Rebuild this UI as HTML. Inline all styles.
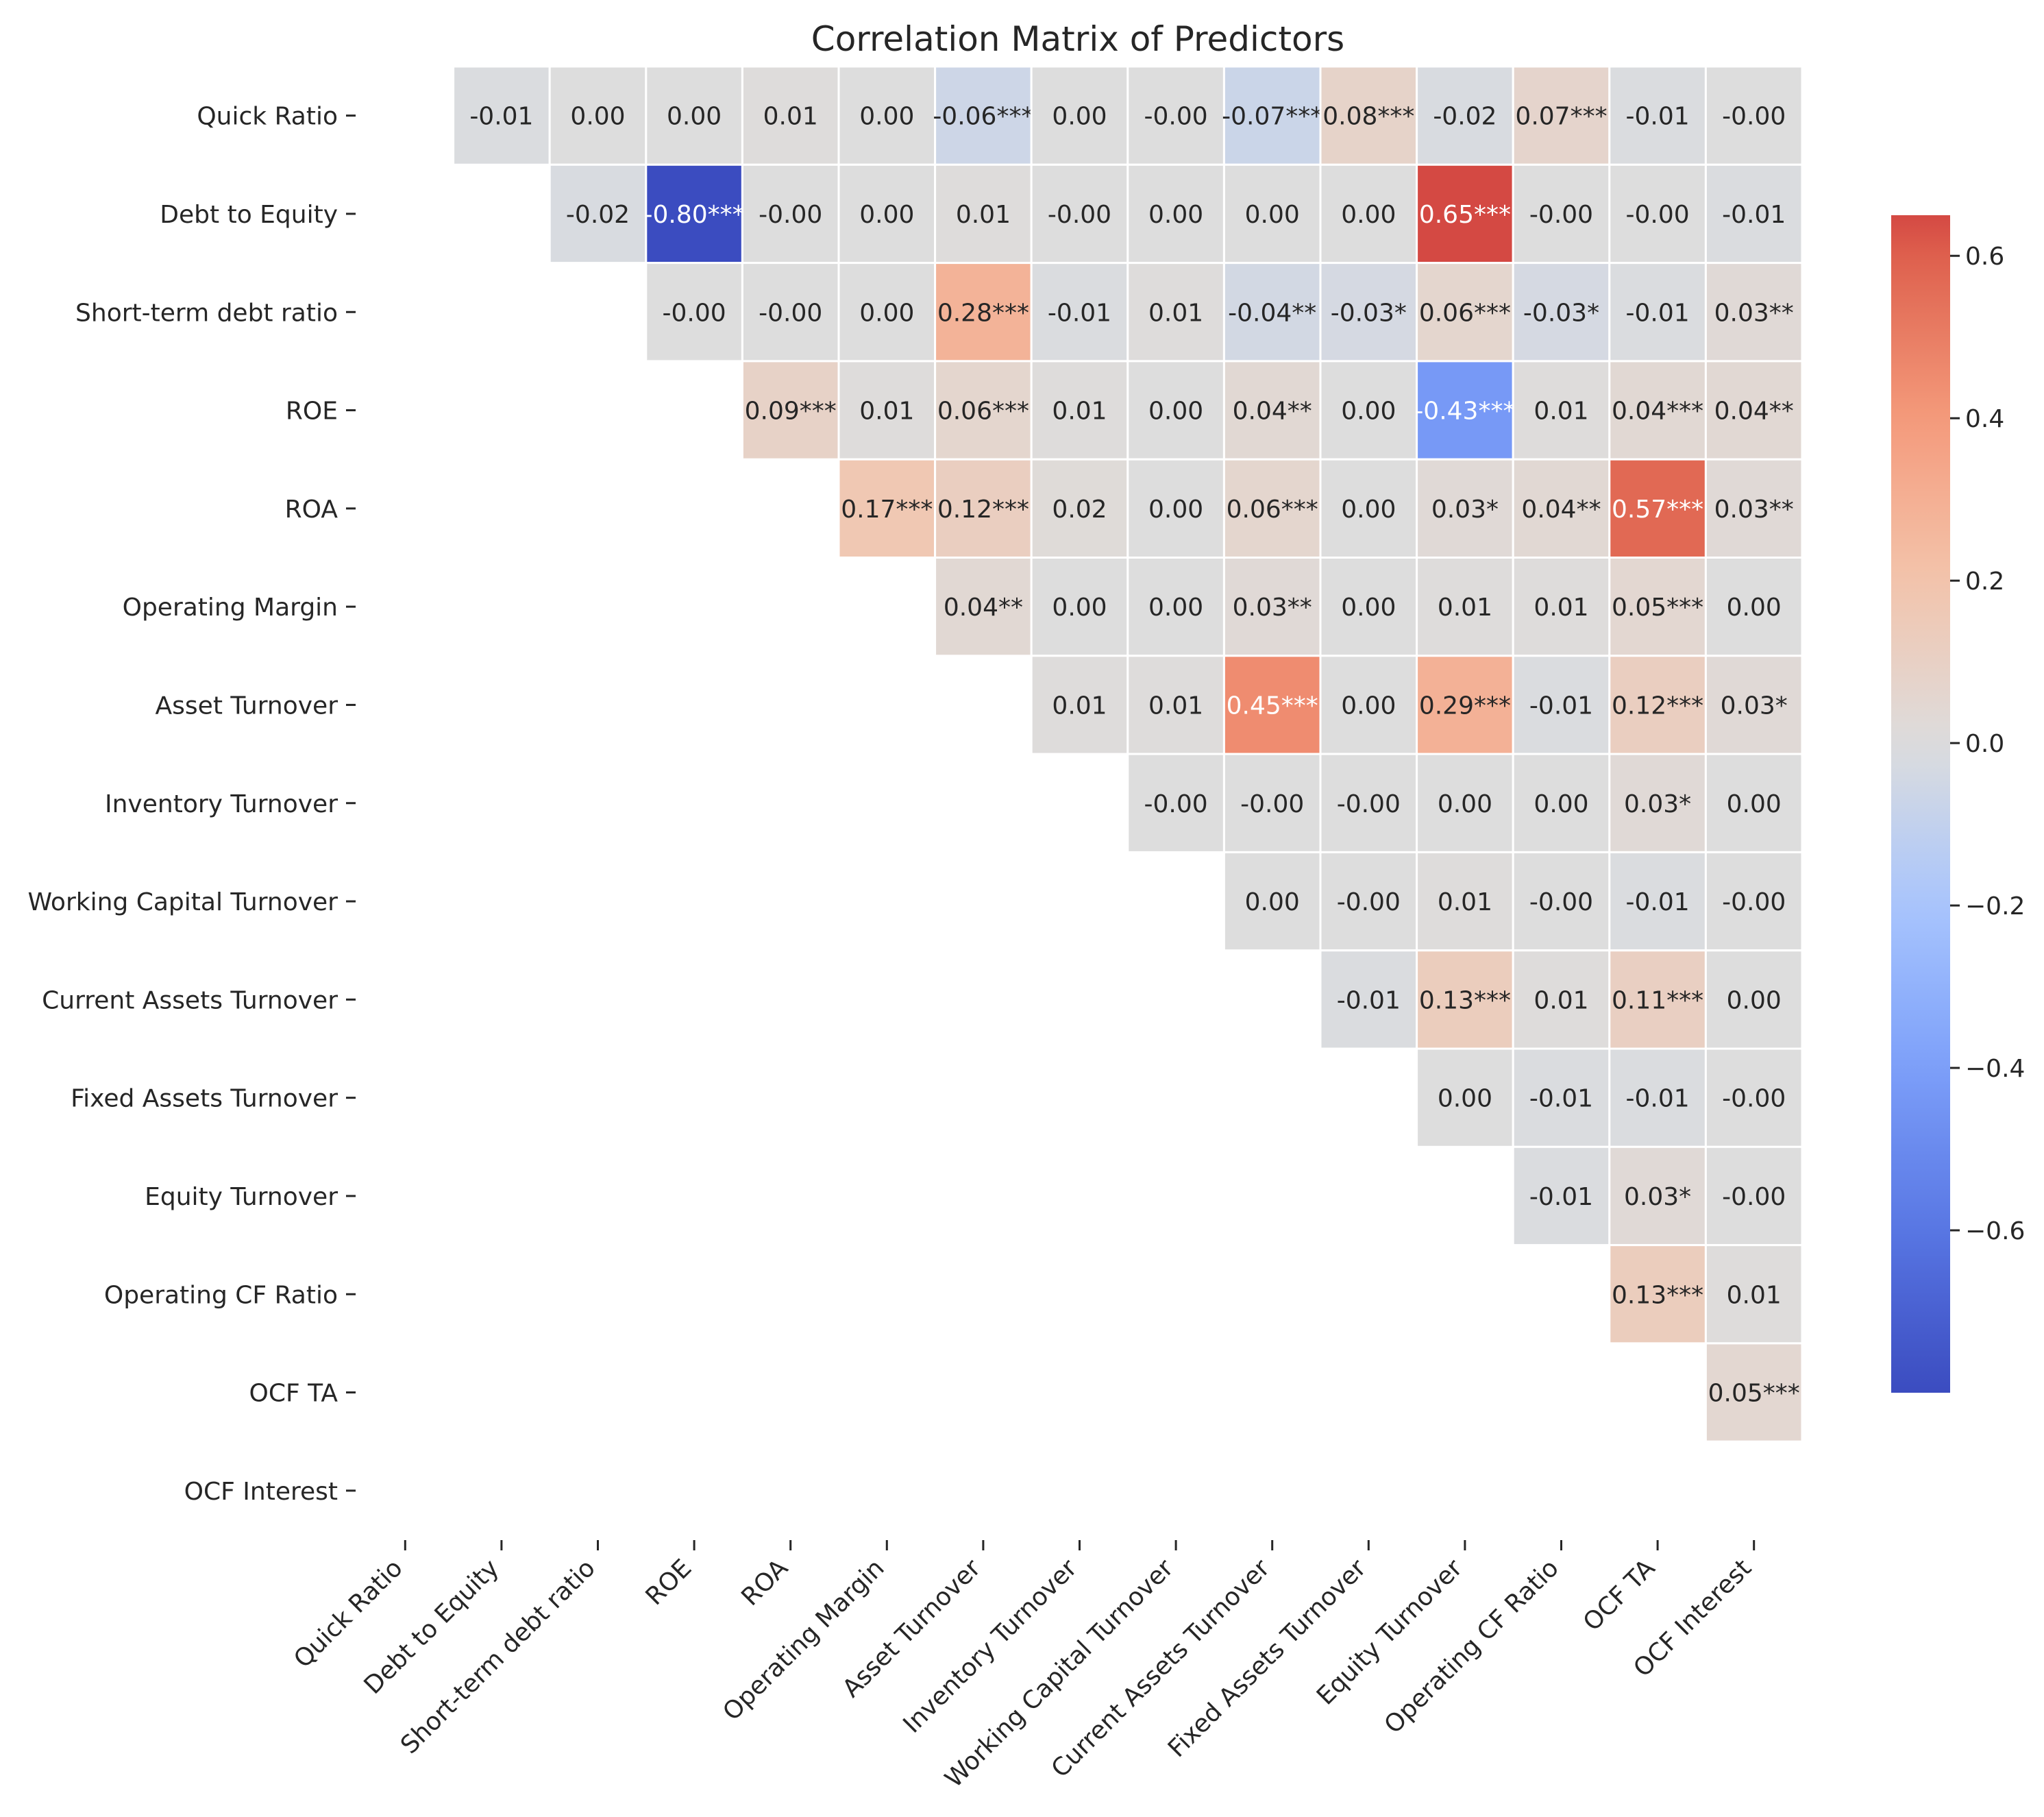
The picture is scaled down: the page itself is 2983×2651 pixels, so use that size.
<!DOCTYPE html>
<html><head><meta charset="utf-8">
<style>
html,body{margin:0;padding:0;background:#fff;}
svg text{font-family:"DejaVu Sans","Liberation Sans",sans-serif;fill:#262626;}
</style></head>
<body>
<svg id="chart" width="2983" height="2646" viewBox="0 0 2983 2646" xmlns="http://www.w3.org/2000/svg">
<rect width="2983" height="2646" fill="#fff"/>
<text x="1573" y="74" font-size="50" text-anchor="middle">Correlation Matrix of Predictors</text>
<g id="cells"></g>
<g id="ylabels"></g>
<g id="xlabels"></g>
<g id="colorbar"></g>
</svg>
<script>
const categories = ["Quick Ratio","Debt to Equity","Short-term debt ratio","ROE","ROA","Operating Margin","Asset Turnover","Inventory Turnover","Working Capital Turnover","Current Assets Turnover","Fixed Assets Turnover","Equity Turnover","Operating CF Ratio","OCF TA","OCF Interest"];
// upper triangle rows: row i contains columns i+1..14
const row0 = [-0.01,0.00,0.00,0.01,0.00,-0.06,0.00,-0.00,-0.07,0.08,-0.02,0.07,-0.01,-0.00];
const row1 = [-0.02,-0.80,-0.00,0.00,0.01,-0.00,0.00,0.00,0.00,0.65,-0.00,-0.00,-0.01];
const row2 = [-0.00,-0.00,0.00,0.28,-0.01,0.01,-0.04,-0.03,0.06,-0.03,-0.01,0.03];
const row3 = [0.09,0.01,0.06,0.01,0.00,0.04,0.00,-0.43,0.01,0.04,0.04];
const row4 = [0.17,0.12,0.02,0.00,0.06,0.00,0.03,0.04,0.57,0.03];
const row5 = [0.04,0.00,0.00,0.03,0.00,0.01,0.01,0.05,0.00];
const row6 = [0.01,0.01,0.45,0.00,0.29,-0.01,0.12,0.03];
const row7 = [-0.00,-0.00,-0.00,0.00,0.00,0.03,0.00];
const row8 = [0.00,-0.00,0.01,-0.00,-0.01,-0.00];
const row9 = [-0.01,0.13,0.01,0.11,0.00];
const row10 = [0.00,-0.01,-0.01,-0.00];
const row11 = [-0.01,0.03,-0.00];
const row12 = [0.13,0.01];
const row13 = [0.05];
const stars0 = ["","","","","","***","","","***","***","","***","",""];
const stars1 = ["","***","","","","","","","","***","","",""];
const stars2 = ["","","","***","","","**","*","***","*","","**"];
const stars3 = ["***","","***","","","**","","***","","***","**"];
const stars4 = ["***","***","","","***","","*","**","***","**"];
const stars5 = ["**","","","**","","","","***",""];
const stars6 = ["","","***","","***","","***","*"];
const stars7 = ["","","","","","*",""];
const stars8 = ["","","","","",""];
const stars9 = ["","***","","***",""];
const stars10 = ["","","",""];
const stars11 = ["","*",""];
const stars12 = ["***",""];
const stars13 = ["***"];
const rows = [row0,row1,row2,row3,row4,row5,row6,row7,row8,row9,row10,row11,row12,row13];
const stars = [stars0,stars1,stars2,stars3,stars4,stars5,stars6,stars7,stars8,stars9,stars10,stars11,stars12,stars13];
const cbTicks = [0.6,0.4,0.2,0.0,-0.2,-0.4,-0.6];
const vmin = -0.80, vmax = 0.65, center = 0;

const NS = "http://www.w3.org/2000/svg";
const X0 = 521, CW = 140.6, Y0 = 97, CH = 143.3;
const xPos = j => X0 + j*CW;
const yPos = i => Y0 + i*CH;
const cmapStops = [[0,[59,76,192]],[0.125,[88,118,227]],[0.25,[124,159,249]],[0.375,[168,197,253]],[0.5,[221,221,221]],[0.625,[243,196,172]],[0.75,[244,154,123]],[0.875,[222,96,77]],[1,[180,4,38]]];
function cmap(t){t=Math.max(0,Math.min(1,t));for(let k=1;k<cmapStops.length;k++){if(t<=cmapStops[k][0]){const a=cmapStops[k-1],b=cmapStops[k];const f=(t-a[0])/(b[0]-a[0]);const c=a[1].map((v,q)=>Math.round(v+(b[1][q]-v)*f));return `rgb(${c[0]},${c[1]},${c[2]})`;}}return "rgb(180,4,38)";}
const half = Math.max(Math.abs(vmin-center), Math.abs(vmax-center));
const tOf = v => 0.5 + (v-center)/(2*half);
const color = v => cmap(tOf(v));
function mk(tag, attrs, parent){const e=document.createElementNS(NS,tag);for(const k in attrs)e.setAttribute(k,attrs[k]);parent.appendChild(e);return e;}

const cells = document.getElementById("cells");
rows.forEach((r,i)=>{
  r.forEach((v,k)=>{
    const j = i+1+k;
    const rect = mk("rect",{x:xPos(j),y:yPos(i),width:CW,height:CH,fill:color(v),stroke:"#fff","stroke-width":3},cells);
    
    
    const t = mk("text",{x:xPos(j)+CW/2,y:yPos(i)+CH/2+13,"font-size":36,"text-anchor":"middle"},cells);
    
    
    const raw = (v<0 || (v===0 && 1/v<0)) ? "-"+Math.abs(v).toFixed(2) : v.toFixed(2);
    t.textContent = raw + stars[i][k];
    if(Math.abs(v)>0.4) t.style.fill="#fff";
  });
});
const yl = document.getElementById("ylabels");
categories.forEach((c,i)=>{
  const cy = yPos(i)+CH/2;
  const t = mk("text",{x:493,y:cy+13,"font-size":36,"text-anchor":"end"},yl);
  
  
  t.textContent=c;
  const l = mk("line",{x1:505,x2:519,y1:cy,y2:cy,stroke:"#262626","stroke-width":3},yl);
  
  
});
const xl = document.getElementById("xlabels");
categories.forEach((c,j)=>{
  const cx = xPos(j)+CW/2;
  const l = mk("line",{x1:cx,x2:cx,y1:2247,y2:2262,stroke:"#262626","stroke-width":3},xl);
  
  
  const t = mk("text",{x:cx-2,y:2290,"font-size":36,"text-anchor":"end",transform:`rotate(-45 ${cx-2} 2290)`},xl);
  
  
  t.textContent=c;
});
// colorbar
const cb = document.getElementById("colorbar");
const CBX=2760, CBW=86, CBT=314, CBB=2032;
const defs = mk("defs",{},cb);
const grad = mk("linearGradient",{id:"cbgrad",x1:0,y1:1,x2:0,y2:0},defs);
for(let s=0;s<=30;s++){const v=vmin+(vmax-vmin)*s/30;mk("stop",{offset:s/30,"stop-color":color(v)},grad);}
const cbr = mk("rect",{x:CBX,y:CBT,width:CBW,height:CBB-CBT,fill:"url(#cbgrad)"},cb);


const cbY = v => CBB - (v-vmin)/(vmax-vmin)*(CBB-CBT);
cbTicks.forEach(v=>{
  const y=cbY(v);
  const l = mk("line",{x1:CBX+CBW,x2:CBX+CBW+14,y1:y,y2:y,stroke:"#262626","stroke-width":3},cb);
  
  
  const t = mk("text",{x:CBX+CBW+22,y:y+13,"font-size":36},cb);
  
  
  t.textContent=(v<0?"\u2212":"")+Math.abs(v).toFixed(1);
});
</script>
</body></html>
